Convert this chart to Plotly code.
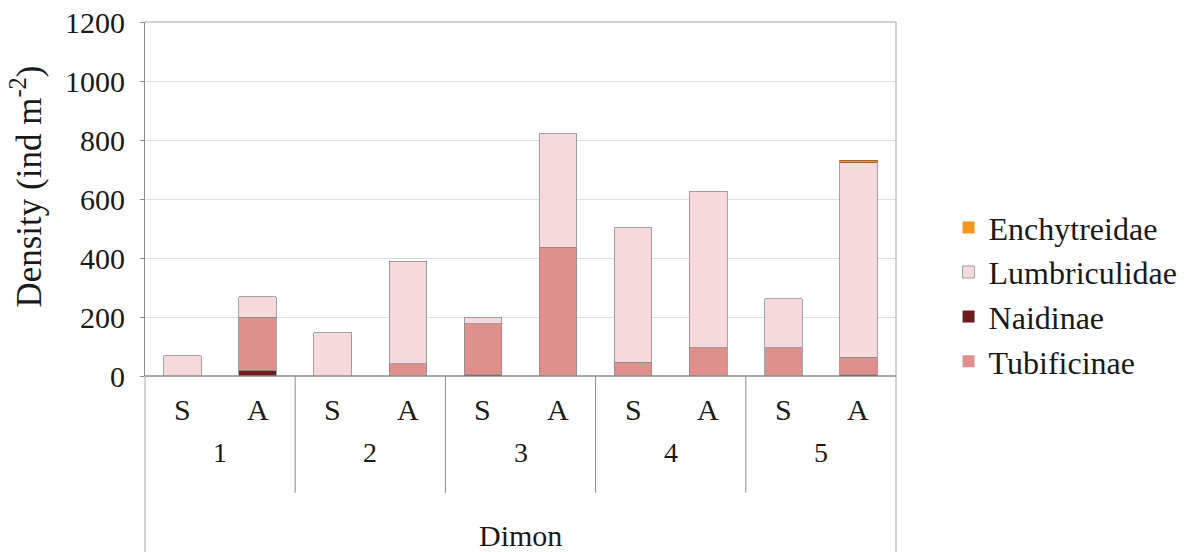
import plotly.graph_objects as go

sites = ["1", "2", "3", "4", "5"]
seasons = ["S", "A"]
categories = ["1S", "1A", "2S", "2A", "3S", "3A", "4S", "4A", "5S", "5A"]

naidinae = [0, 20, 0, 0, 5, 0, 0, 0, 0, 4]
tubificinae = [0, 179, 0, 42, 172, 437, 47, 96, 96, 59]
lumbriculidae = [68, 70, 147, 347, 21, 385, 455, 531, 166, 661]
enchytreidae = [0, 0, 0, 0, 0, 0, 0, 0, 0, 7]

FONT = "Liberation Serif"
x = list(range(len(categories)))

series = [
    ("Naidinae", naidinae, "#6E1B1B", "#8c8c8c", 3),
    ("Tubificinae", tubificinae, "#E0908C", "#8c8c8c", 4),
    ("Lumbriculidae", lumbriculidae, "#F6D9DA", "#8c8c8c", 2),
    ("Enchytreidae", enchytreidae, "#F7941D", "#8B5A2B", 1),
]

def f(size, fam=FONT):
    return dict(family=fam, size=size, color="#1a1a1a")

fig = go.Figure()
for name, vals, color, lcolor, rank in series:
    fig.add_trace(go.Bar(
        x=x, y=vals, name=name, width=0.5,
        marker=dict(color=color,
                    line=dict(color=lcolor, width=[0.8 if v else 0 for v in vals])),
        legendrank=rank, legendgroup=name,
    ))

fig.update_layout(
    template="none",
    width=1190, height=552,
    margin=dict(l=145, r=294, t=22, b=176, autoexpand=False),
    barmode="stack",
    plot_bgcolor="white", paper_bgcolor="white",
    font=f(28),
    showlegend=True,
    legend=dict(x=1.07, xanchor="left", y=0.23, yanchor="middle",
                font=f(32), traceorder="normal", tracegroupgap=14,
                bgcolor="rgba(0,0,0,0)"),
    xaxis=dict(range=[-0.5, 9.5], showticklabels=False, showgrid=False,
               zeroline=False, showline=False, fixedrange=True),
    yaxis=dict(range=[0, 1200], dtick=200, showgrid=True, gridcolor="#dedede",
               gridwidth=1, zeroline=False, showline=True, linecolor="#8c8c8c",
               ticks="outside", ticklen=4, tickcolor="#8c8c8c",
               ticklabelstandoff=9, tickfont=f(30)),
)

# frame: top, right, baseline, and category-area box
fig.add_shape(type="line", xref="paper", yref="paper", x0=0, x1=1, y0=1, y1=1,
              line=dict(color="#a6a6a6", width=1))
fig.add_shape(type="line", xref="paper", yref="paper", x0=1, x1=1, y0=1, y1=-0.5,
              line=dict(color="#a6a6a6", width=1))
fig.add_shape(type="line", xref="paper", yref="paper", x0=0, x1=0, y0=0, y1=-0.5,
              line=dict(color="#a6a6a6", width=1))
fig.add_shape(type="line", xref="paper", yref="paper", x0=0, x1=1, y0=0, y1=0,
              line=dict(color="#8c8c8c", width=1.5))

# group dividers
for i in range(1, len(sites)):
    xd = 2 * i - 0.5
    fig.add_shape(type="line", xref="x", yref="paper", x0=xd, x1=xd, y0=0, y1=-0.33,
                  line=dict(color="#8c8c8c", width=1))

# season labels
for i, c in enumerate(categories):
    fig.add_annotation(x=i, xref="x", y=-0.095, yref="paper", text=c[1],
                       showarrow=False, yanchor="middle", font=f(30))
# site labels
for j, s in enumerate(sites):
    fig.add_annotation(x=2 * j + 0.5, xref="x", y=-0.215, yref="paper", text=s,
                       showarrow=False, yanchor="middle", font=f(28))
fig.add_annotation(x=0.5, xref="paper", y=-0.45, yref="paper", text="Dimon",
                   showarrow=False, yanchor="middle", font=f(30))
fig.add_annotation(x=-0.158, xref="paper", y=0.536, yref="paper",
                   text="Density (ind m<sup>-2</sup>)", textangle=-90,
                   showarrow=False, xanchor="center", yanchor="middle",
                   font=f(35))

fig.write_html("out.html")
